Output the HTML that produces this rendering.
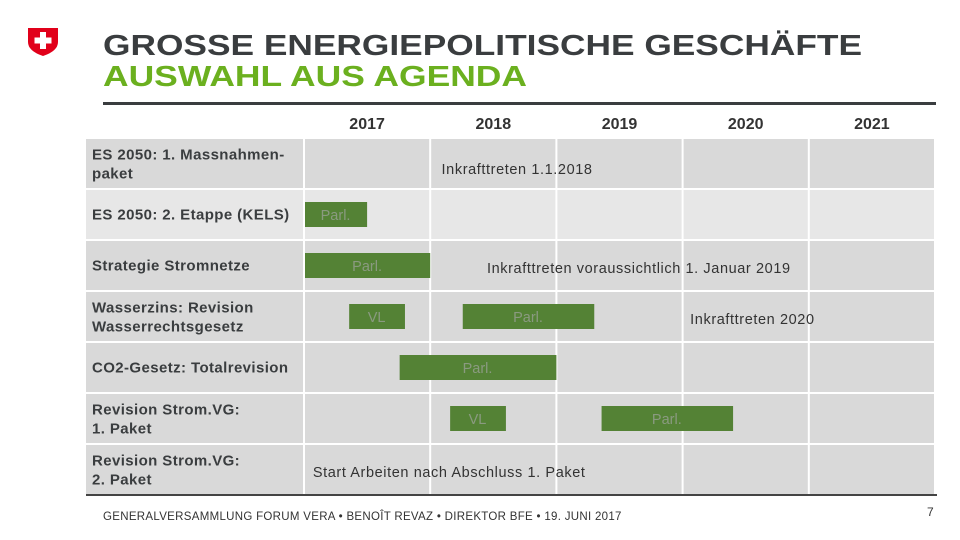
<!DOCTYPE html>
<html><head><meta charset="utf-8"><style>
html,body{margin:0;padding:0;background:#fff;}
svg{display:block;font-family:"Liberation Sans",Arial,sans-serif;}
</style></head><body>
<svg id="chart" width="960" height="540" viewBox="0 0 960 540">
  <g>
    <path d="M28,28 L58,28 L58,42 Q58,51 43,56 Q28,51 28,42 Z" fill="#e1001a"/>
    <rect x="40" y="32" width="6" height="17" fill="#fff"/>
    <rect x="34.5" y="37.5" width="17" height="6" fill="#fff"/>
  </g>
  <text x="103" y="55" font-size="29" font-weight="bold" fill="#3a3d3f" textLength="759" lengthAdjust="spacingAndGlyphs">GROSSE ENERGIEPOLITISCHE GESCHÄFTE</text>
  <text x="103" y="86" font-size="29" font-weight="bold" fill="#6bb01f" textLength="424" lengthAdjust="spacingAndGlyphs">AUSWAHL AUS AGENDA</text>
  <rect x="103" y="102" width="833" height="3" fill="#3a3d3f"/>
  <g id="grid"></g>
  <g id="bars"></g>
  <g id="texts"></g>
  <rect x="86" y="494" width="851" height="2" fill="#444"/>
  <text x="103" y="520" font-size="11.5" letter-spacing="0.3" fill="#333">GENERALVERSAMMLUNG FORUM VERA • BENOÎT REVAZ • DIREKTOR BFE • 19. JUNI 2017</text>
  <text x="927" y="516" font-size="12" fill="#333">7</text>
</svg>
<script>
const years = [2017, 2018, 2019, 2020, 2021];
const rowLabels = [["ES 2050: 1. Massnahmen-","paket"],["ES 2050: 2. Etappe (KELS)"],["Strategie Stromnetze"],["Wasserzins: Revision","Wasserrechtsgesetz"],["CO2-Gesetz: Totalrevision"],["Revision Strom.VG:","1. Paket"],["Revision Strom.VG:","2. Paket"]];
const barRows = [1, 2, 3, 3, 4, 5, 5];
const barStarts = [2017.0, 2017.0, 2017.35, 2018.25, 2017.75, 2018.15, 2019.35];
const barEnds = [2017.5, 2018.0, 2017.8, 2019.3, 2019.0, 2018.6, 2020.4];
const barLabels = ["Parl.", "Parl.", "VL", "Parl.", "Parl.", "VL", "Parl."];
const noteRows = [0, 2, 3, 6];
const notePos = [2018.09, 2018.45, 2020.06, 2017.07];
const noteTexts = ["Inkrafttreten 1.1.2018", "Inkrafttreten voraussichtlich 1. Januar 2019", "Inkrafttreten 2020", "Start Arbeiten nach Abschluss 1. Paket"];

const NS = "http://www.w3.org/2000/svg";
const x0 = 304, colW = 126.2, y0 = 139, rowH = 51;
function xs(v){ return x0 + (v - years[0]) * colW; }
function ys(r){ return y0 + r * rowH; }
function mk(tag, attrs, parent){ const e = document.createElementNS(NS, tag); for (const k in attrs) e.setAttribute(k, attrs[k]); parent.appendChild(e); return e; }
const grid = document.getElementById('grid'), bars = document.getElementById('bars'), texts = document.getElementById('texts');

years.forEach((y, i) => {
  const t = mk('text', {x: xs(y) + colW/2, y: 129, 'font-size': 16, 'font-weight': 'bold', fill: '#333', 'text-anchor': 'middle'}, texts);
  
  
  t.textContent = y;
});
rowLabels.forEach((lab, r) => {
  const fill = r === 1 ? '#e7e7e7' : '#d9d9d9';
  const c = mk('rect', {x: 86, y: ys(r), width: 217, height: rowH - 2, fill: fill}, grid);
  
  
  years.forEach((y) => {
    const cell = mk('rect', {x: xs(y) + 1, y: ys(r), width: colW - 2, height: rowH - 2, fill: fill}, grid);
    
    
  });
  const cy = ys(r) + (rowH - 2) / 2;
  lab.forEach((line, k) => {
    const ty = cy + 5 + (lab.length === 2 ? (k === 0 ? -9 : 10) : 0);
    const t = mk('text', {x: 92, y: ty, 'font-size': 15, 'font-weight': 'bold', 'letter-spacing': 0.4, fill: '#3a3d3f'}, texts);
    
    
    t.textContent = line;
  });
});
barRows.forEach((r, i) => {
  const x1 = xs(barStarts[i]), x2 = xs(barEnds[i]);
  const b = mk('rect', {x: x1 + 1, y: ys(r) + 12, width: x2 - x1 - 1, height: 25, fill: '#548235'}, bars);
  
  
  const t = mk('text', {x: (x1 + x2) / 2, y: ys(r) + 30, 'font-size': 14.5, fill: '#8a9a80', 'text-anchor': 'middle'}, texts);
  
  
  t.textContent = barLabels[i];
});
noteRows.forEach((r, i) => {
  const t = mk('text', {x: xs(notePos[i]), y: ys(r) + (r === 0 ? 35 : 32), 'font-size': 14.5, 'letter-spacing': 0.6, fill: '#333'}, texts);
  
  
  t.textContent = noteTexts[i];
});
</script>
</body></html>
